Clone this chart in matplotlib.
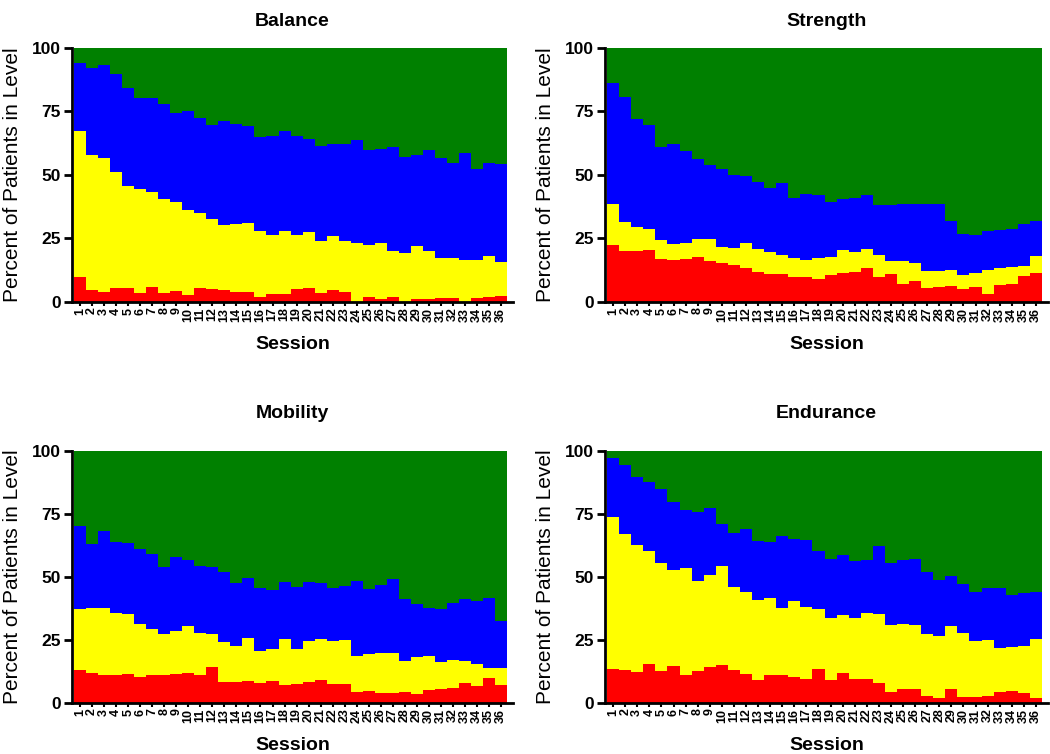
import numpy as np
import matplotlib
matplotlib.use('Agg')
import matplotlib.pyplot as plt

plt.rcParams['font.family'] = ['Liberation Sans', 'DejaVu Sans']

# Sessions 1..36
sessions = np.arange(1, 37)

# Percent of patients in each level (red, yellow, blue); green is the remainder up to 100
balance_red = [9.8, 4.7, 4.1, 5.4, 5.4, 3.7, 5.8, 3.7, 4.5, 2.9, 5.4, 5.2, 4.7, 4.1, 4.1, 1.8, 3.2, 3.1,
               5.0, 5.4, 3.7, 4.7, 3.8, 0.0, 2.1, 1.0, 2.1, 0.0, 1.1, 1.1, 1.6, 1.6, 0.0, 1.7, 2.1, 2.4]
balance_yellow = [57.6, 53.0, 52.7, 45.8, 40.4, 40.7, 37.6, 36.7, 34.9, 33.3, 29.6, 27.6, 25.6, 26.6, 27.1, 26.0, 23.1, 25.0,
                  21.5, 22.2, 20.4, 21.3, 20.2, 23.1, 20.5, 22.1, 17.9, 19.4, 20.9, 18.9, 15.7, 15.6, 16.4, 15.0, 16.0, 13.3]
balance_blue = [26.8, 34.3, 36.5, 38.4, 38.3, 36.0, 36.8, 37.4, 35.1, 38.9, 37.4, 37.0, 41.0, 39.4, 38.2, 37.0, 39.1, 39.3,
                39.0, 36.6, 37.4, 36.1, 38.3, 40.8, 37.2, 37.0, 40.9, 37.8, 35.9, 39.8, 39.3, 37.4, 42.4, 35.8, 36.8, 38.6]

strength_red = [22.4, 20.1, 20.2, 20.5, 17.1, 16.5, 16.8, 17.7, 16.1, 15.5, 14.4, 13.5, 11.7, 11.0, 11.2, 9.8, 9.7, 9.2,
                10.5, 11.3, 11.7, 13.5, 9.7, 11.0, 7.0, 8.3, 5.4, 6.0, 6.3, 5.3, 5.9, 3.0, 6.6, 6.9, 10.3, 11.3]
strength_yellow = [16.2, 11.5, 9.2, 8.1, 7.3, 6.3, 6.3, 7.0, 8.6, 6.3, 6.9, 9.7, 9.2, 8.7, 7.3, 7.6, 6.7, 8.0,
                   7.3, 9.2, 8.0, 7.2, 8.7, 5.0, 9.0, 7.2, 6.6, 6.0, 6.1, 5.2, 5.7, 9.6, 6.7, 6.7, 4.0, 6.7]
strength_blue = [47.5, 49.0, 42.5, 41.2, 36.5, 39.3, 36.3, 31.5, 29.2, 30.4, 28.7, 26.4, 26.3, 25.3, 28.2, 23.4, 26.1, 24.8,
                 21.6, 19.9, 21.2, 21.6, 19.7, 22.3, 22.6, 23.1, 26.6, 26.5, 19.5, 16.3, 14.7, 15.5, 15.0, 15.2, 16.3, 13.8]

mobility_red = [13.0, 12.0, 11.1, 11.1, 11.4, 10.4, 11.0, 11.1, 11.6, 11.8, 11.1, 14.3, 8.2, 8.3, 8.7, 7.9, 8.7, 7.1,
                7.4, 8.5, 9.3, 7.7, 7.4, 4.5, 4.9, 4.0, 4.1, 4.4, 3.4, 5.0, 5.6, 6.1, 8.1, 6.6, 10.0, 7.0]
mobility_yellow = [24.2, 25.6, 26.5, 24.7, 24.0, 20.9, 18.4, 16.1, 16.8, 18.9, 16.8, 13.2, 15.9, 14.5, 17.1, 12.7, 12.7, 18.3,
                   14.0, 16.1, 16.1, 16.9, 17.5, 14.3, 14.7, 15.8, 15.7, 12.3, 14.9, 13.5, 10.5, 11.0, 8.6, 8.7, 4.0, 7.0]
mobility_blue = [33.0, 25.4, 30.7, 28.1, 28.0, 29.9, 29.9, 26.8, 29.4, 25.9, 26.3, 26.3, 27.8, 25.0, 23.7, 25.2, 23.6, 22.5,
                 24.6, 23.4, 22.4, 20.9, 21.5, 29.6, 25.6, 27.0, 29.5, 24.4, 21.1, 19.3, 21.2, 22.5, 24.4, 25.0, 27.7, 18.5]

endurance_red = [13.4, 13.1, 12.4, 15.3, 12.8, 14.7, 11.1, 12.6, 14.4, 14.9, 13.1, 11.6, 9.0, 11.2, 11.0, 10.4, 9.5, 13.5,
                 9.0, 11.8, 9.4, 9.4, 8.1, 4.5, 5.7, 5.7, 2.9, 2.1, 5.7, 2.4, 2.5, 2.6, 4.5, 4.8, 3.8, 1.9]
endurance_yellow = [60.5, 53.8, 50.3, 45.0, 42.9, 38.1, 42.6, 35.8, 36.3, 39.6, 32.9, 32.3, 31.9, 30.6, 26.7, 30.2, 28.7, 23.7,
                    24.9, 23.0, 24.2, 26.3, 27.1, 26.4, 25.5, 25.2, 24.6, 24.4, 24.7, 25.5, 22.0, 22.4, 17.2, 17.3, 18.8, 23.5]
endurance_blue = [23.2, 27.5, 26.9, 27.5, 29.2, 27.1, 22.9, 27.5, 26.5, 16.5, 21.3, 25.0, 23.5, 22.2, 28.4, 24.5, 26.5, 23.1,
                  23.4, 23.8, 22.7, 21.0, 27.1, 24.8, 25.5, 26.2, 24.6, 22.3, 20.1, 19.2, 19.6, 20.8, 23.9, 20.9, 20.9, 18.5]

panels = [
    ('Balance', balance_red, balance_yellow, balance_blue, [0.0686, 0.5995, 0.420, 0.3369], 16),
    ('Strength', strength_red, strength_yellow, strength_blue, [0.5762, 0.5995, 0.4219, 0.3369], 16),
    ('Mobility', mobility_red, mobility_yellow, mobility_blue, [0.0686, 0.0676, 0.420, 0.3342], 24),
    ('Endurance', endurance_red, endurance_yellow, endurance_blue, [0.5762, 0.0676, 0.4219, 0.3342], 24),
]

level_colors = ['#FF0000', '#FFFF00', '#0000FF', '#008000']

fig = plt.figure(figsize=(10.5, 7.54), dpi=100)

for title, red, yellow, blue, pos, tpad in panels:
    ax = fig.add_axes(pos)
    red = np.array(red)
    yellow = np.array(yellow)
    blue = np.array(blue)
    green = 100 - red - yellow - blue

    # stacked levels, no gaps between sessions
    bottom = np.zeros(len(sessions))
    for vals, col in zip([red, yellow, blue, green], level_colors):
        ax.bar(sessions, vals, width=1.0, bottom=bottom, color=col,
               edgecolor='none', linewidth=0, antialiased=False)
        bottom = bottom + vals

    ax.set_xlim(0.33, 37.0)
    ax.set_ylim(0, 100)

    ax.set_yticks([0, 25, 50, 75, 100])
    ax.set_yticklabels(['0', '25', '50', '75', '100'], fontsize=12.5, fontweight='bold')
    ax.set_xticks(sessions)
    ax.set_xticklabels([str(s) for s in sessions], rotation=90, fontsize=9, fontweight='bold')

    ax.tick_params(axis='y', length=6, width=2, pad=2)
    ax.tick_params(axis='x', length=3, width=1.5, pad=1)

    ax.spines['top'].set_visible(False)
    ax.spines['right'].set_visible(False)
    ax.spines['left'].set_linewidth(2)
    ax.spines['bottom'].set_linewidth(2)

    ax.set_title(title, fontsize=14, fontweight='bold', pad=tpad)
    ax.set_xlabel('Session', fontsize=14, fontweight='bold', labelpad=10)
    ax.set_ylabel('Percent of Patients in Level', fontsize=15, labelpad=7)

plt.savefig('out.png', dpi=100)
